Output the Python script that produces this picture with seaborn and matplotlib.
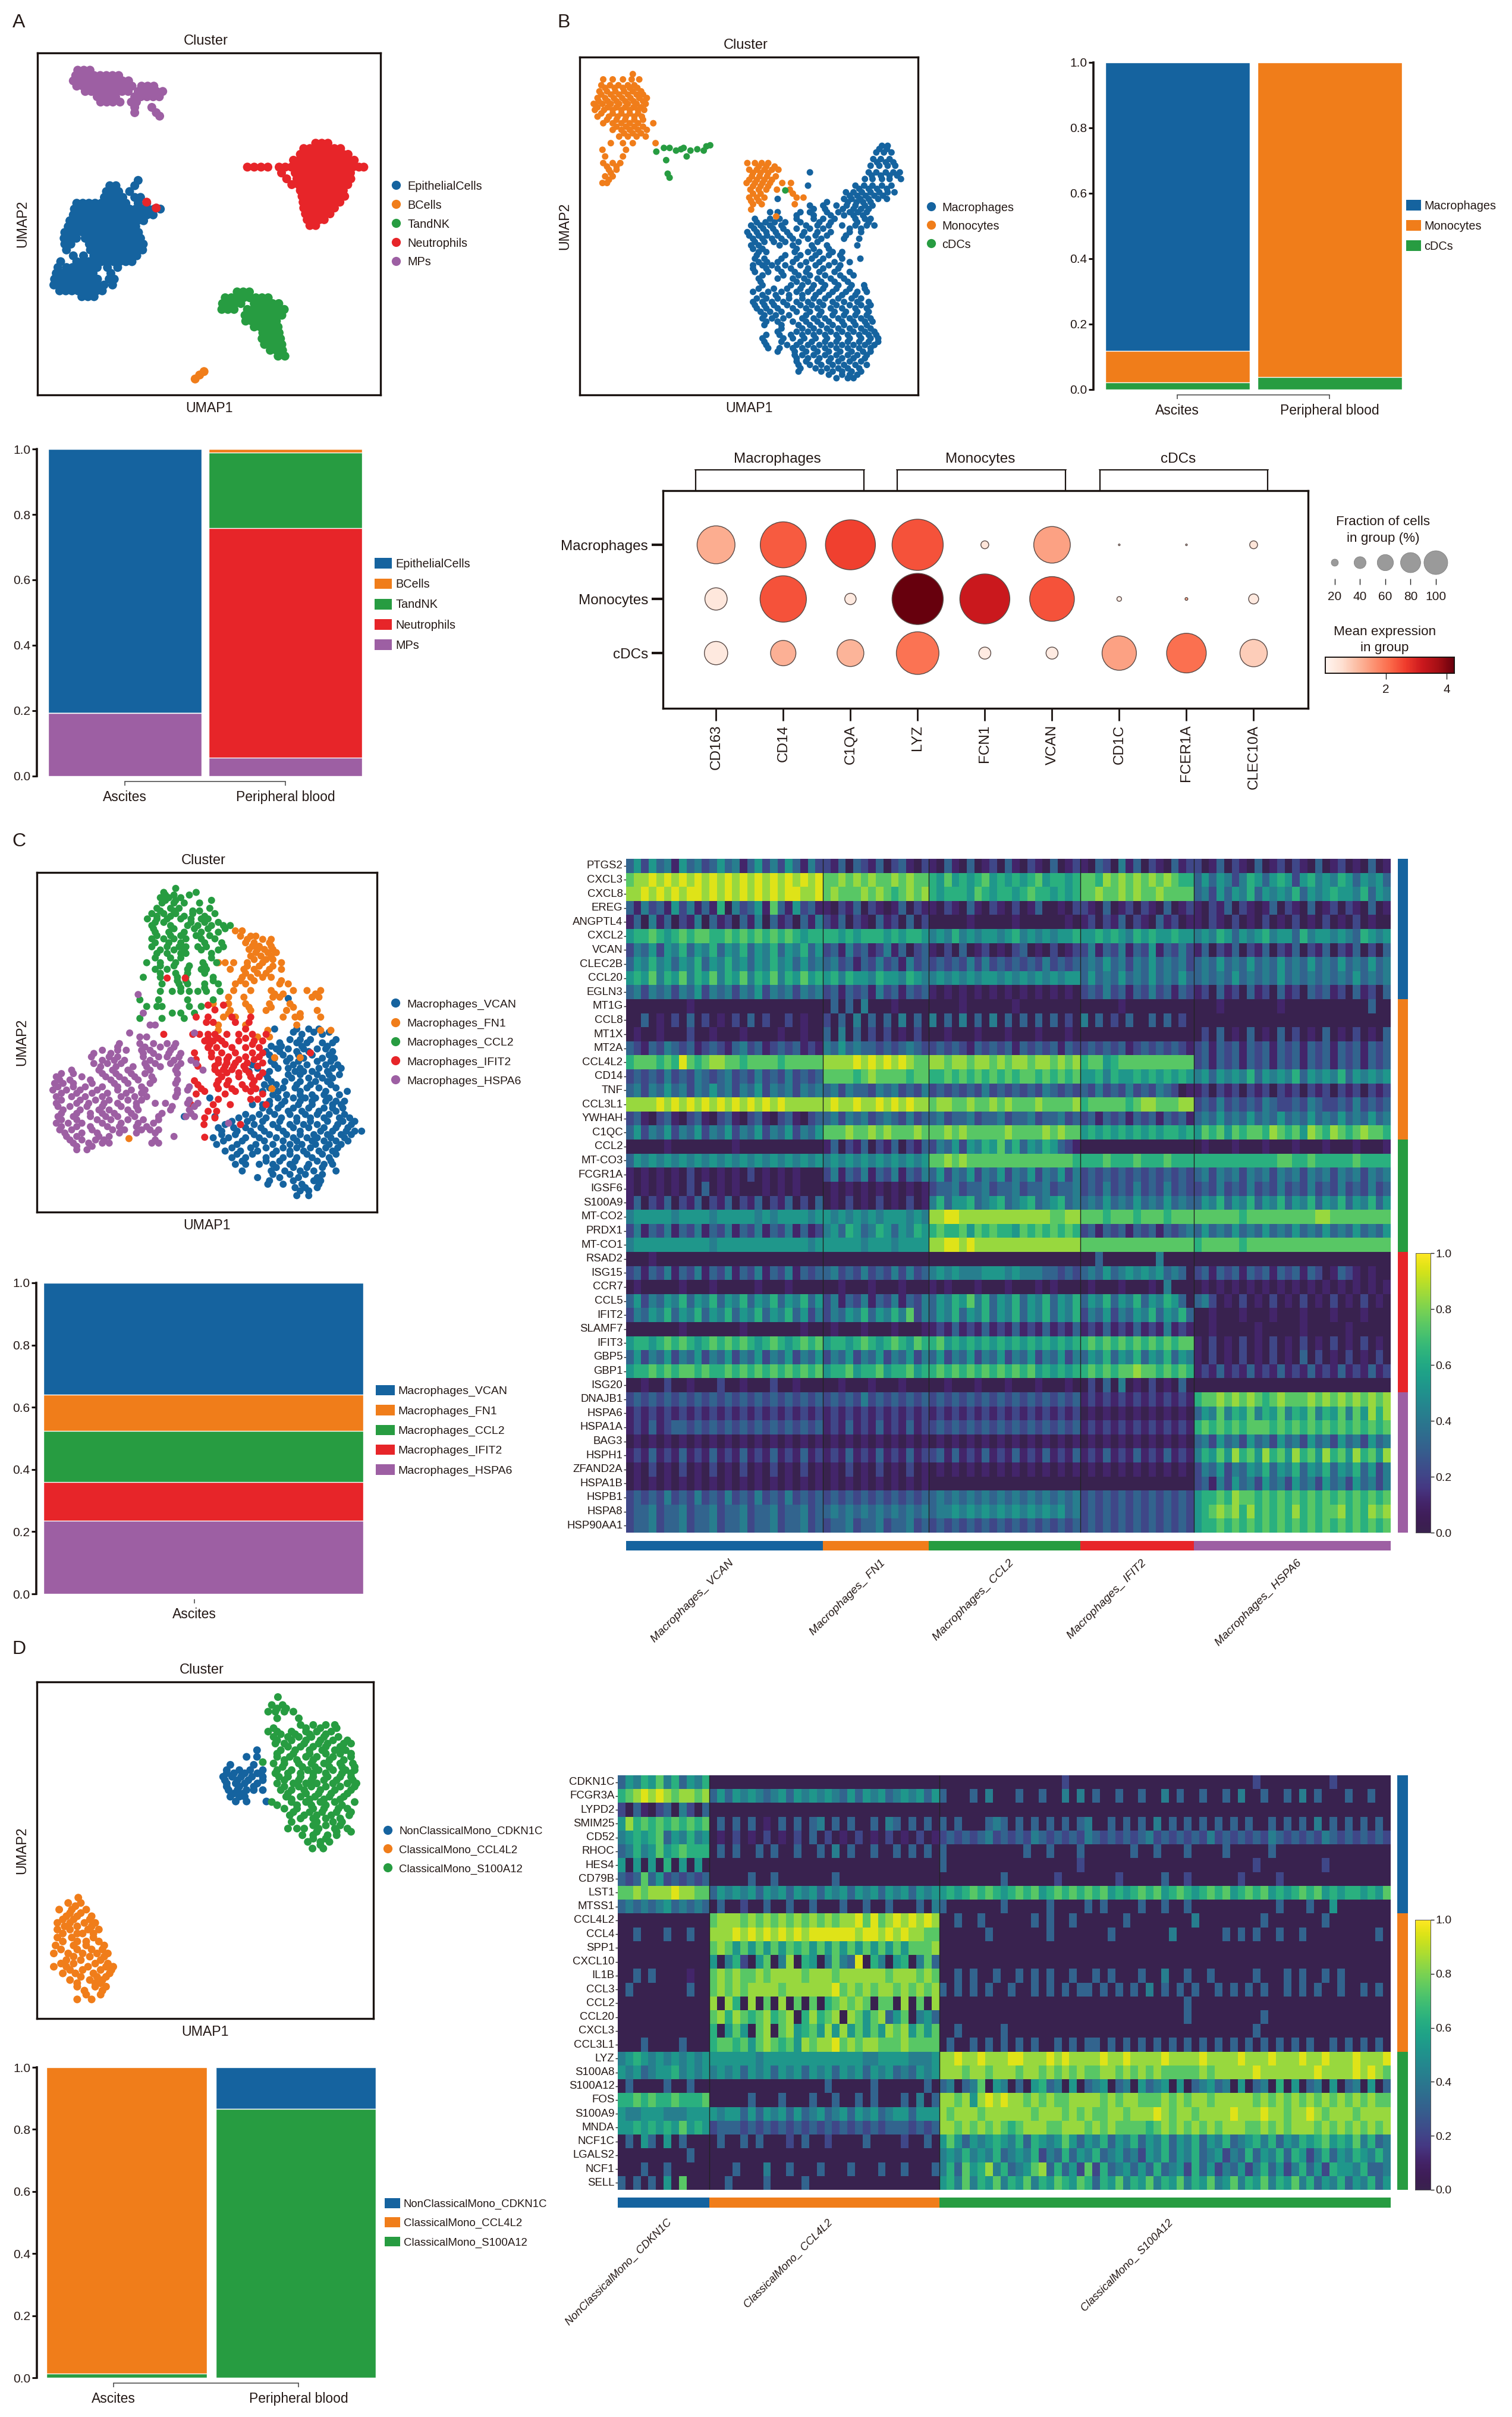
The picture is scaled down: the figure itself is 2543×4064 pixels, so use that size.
import numpy as np, pandas as pd
import matplotlib
matplotlib.use('Agg')
import matplotlib.pyplot as plt
from matplotlib.colors import ListedColormap, Normalize
from matplotlib.cm import ScalarMappable
from matplotlib.lines import Line2D
from matplotlib.patches import Patch
import seaborn as sns

sns.set_theme(style='white')
plt.rcParams['font.family'] = ['Liberation Sans', 'DejaVu Sans']
plt.rcParams['text.color'] = '#231815'
plt.rcParams['axes.labelcolor'] = '#231815'
plt.rcParams['xtick.color'] = '#231815'
plt.rcParams['ytick.color'] = '#231815'

BLUE, ORANGE, GREEN, RED, PURPLE = '#15639f', '#f07d1a', '#279c41', '#e72529', '#9d5fa3'
PAL = [BLUE, ORANGE, GREEN, RED, PURPLE]

# ---------- panel A ----------
A_NAMES = ['EpithelialCells', 'BCells', 'TandNK', 'Neutrophils', 'MPs']
A_EPI = [(680,[405]),(700,[322,340,395]),(722,[312,330,348,380]),(744,[306,324,342,360,395,412]),
 (766,[225,243,261,279,297,315,333,351,369,405,430]),(788,[218,236,254,272,290,308,326,344,362,380,398,416,434,452,470]),
 (810,[215,233,251,269,287,305,323,341,359,377,395,413,431,449]),(832,[205,223,241,259,277,295,313,331,349,367,385,403,421]),
 (854,[200,218,236,254,272,290,308,326,344,362,380,398]),(876,[190,208,226,244,262,280,298,316,334,352,370,388,406]),
 (898,[188,206,224,250,268,286,304,322,340,358,376,394,412]),(920,[190,208,262,280,298,316,334,352,370,388,406,420]),
 (942,[195,265,283,301,319,337,355,373,391,409,418]),(964,[215,245,275,293,311,329,347,365,383,401]),
 (986,[178,225,243,261,279,297,315,333,351,369,387]),(1008,[170,195,213,231,249,267,285,315,345]),
 (1030,[165,183,201,219,237,255,273,325]),(1052,[160,178,196,214,232,250,268,286,320,335]),
 (1074,[158,176,194,212,230,248,266,284,305,330]),(1096,[175,193,211,229,247,265,283,300]),(1118,[240,258,276])]
A_BCELL = [(1428,[572]),(1413,[585]),(1400,[598])]
A_TNK = [(1100,[695,713,731]),(1122,[660,678,696,714,732,750,768,786]),(1144,[652,670,688,706,745,763,781,799,817]),
 (1166,[650,668,686,725,743,761,779,797,815,833]),(1188,[718,736,754,772,790,808,826]),(1210,[720,738,756,774,792,810]),
 (1232,[745,763,781,799,815]),(1254,[770,788,806,818]),(1276,[768,786,804,822]),(1298,[775,793,811,826]),
 (1320,[792,810,828]),(1342,[815,835])]
A_NEU = [(540,[925,943,961]),(560,[890,908,926,944,962,980,998]),(582,[880,898,916,934,952,970,988,1006,1020]),
 (604,[860,878,896,914,932,950,968,986,1004,1022,1038]),
 (630,[725,745,765,785,818,836,854,872,890,908,926,944,962,980,998,1016,1034,1052,1066]),
 (652,[825,865,883,901,919,937,955,973,991,1009,1027]),(674,[840,870,888,906,924,942,960,978,996,1014,1028]),
 (696,[855,875,893,911,929,947,965,983,1001,1019]),(718,[880,898,916,934,952,970,988,1006]),
 (740,[885,903,921,939,957,975,993,1010]),(762,[888,906,924,942,960,978,996,430]),(784,[890,908,926,944,962,980,458]),
 (806,[895,913,931,949,967]),(828,[900,918,936,950]),(850,[908,925])]
A_MPS = [(265,[228,246,264]),(285,[222,240,258,276,294,312,330,348]),(305,[215,233,251,269,287,305,323,341,359,377]),
 (325,[225,243,261,279,297,315,333,351,369,387,415,433,451]),(345,[250,268,286,304,322,340,358,376,405,423,441,459,477]),
 (365,[285,303,321,339,395,413,431,449,467]),(385,[295,313,331,352,385,400]),(405,[395,445]),(425,[395,458]),(438,[468])]
A_SAMPLES = ['Ascites', 'Peripheral blood']
A_FRAC = {'EpithelialCells':[0.807,0.0],'BCells':[0.001,0.011],'TandNK':[0.0,0.231],'Neutrophils':[0.0,0.702],'MPs':[0.192,0.056]}

# ---------- panel B ----------
B_NAMES = ['Macrophages', 'Monocytes', 'cDCs']
B_MAC = [(550,[915,930]),(575,[900,920,940]),(600,[892,912,935]),(625,[885,908,930,950]),(650,[880,900,925,945,962,725]),
 (675,[870,890,915,935,965]),(700,[845,868,890,915,940,720]),(725,[820,840,862,885,908,930,948]),(750,[815,835,858,880,905,928,640]),
 (775,[760,795,822,845,870,890,725]),(800,[700,725,770,800,830,852,875,640,620]),(825,[580,620,645,690,735,760,790,845,870,885]),
 (850,[570,595,620,650,715,745,775,810,845,875,895]),(875,[560,585,610,635,665,710,745,780,830,860]),
 (900,[575,600,625,650,680,720,755,815,855]),(925,[570,590,645,680,730,770,850]),(950,[590,610,685,720,750,785,810]),
 (975,[580,605,650,690,730,760,810,858]),(1000,[575,600,625,660,700,740,775,805]),(1025,[580,615,650,685,715,750,790,830]),
 (1050,[590,640,680,710,745,780,815]),(1075,[600,675,705,735,765,800,835,868]),(1100,[575,615,650,690,720,750,785,820,850,875]),
 (1125,[585,610,640,670,705,735,765,800,835,860]),(1150,[580,605,630,665,700,730,760,795,830,860,885]),
 (1175,[595,620,650,690,725,755,790,820,850,880]),(1200,[600,625,655,705,735,765,800,830,860,885]),
 (1225,[605,650,695,725,755,785,815,845,875]),(1250,[640,690,720,750,780,810,840,870,895]),
 (1275,[600,655,680,710,740,770,800,830,860,885,905]),(1300,[610,665,690,720,750,780,810,840,870,895]),
 (1325,[640,685,715,745,775,805,835,865,885]),(1350,[690,720,750,780,810,840,870]),(1375,[695,725,755,785,815,845,875]),
 (1400,[695,755,785,810,835,860]),(1425,[795,825,840]),
 (562,[908,928]),(612,[902,925,945]),(662,[888,912,935,955]),(712,[855,880,902,928]),(738,[830,850,872,895,918]),(762,[825,848,865,885,770]),
 (788,[812,840,860,880,735,765]),(812,[690,735,780,815,840,865]),(838,[585,608,632,660,700,750,780,850,880]),(862,[578,602,628,655,690,725,760,830,860]),
 (888,[565,590,612,640,672,705,740,770,820]),(912,[580,605,630,660,695,745]),(938,[575,600,690,735,775]),(962,[585,660,700,740,775,805]),
 (988,[590,612,640,680,715,750,790,830]),(1012,[575,610,640,675,720,760,800]),(1038,[600,655,695,725,765,805,840]),(1062,[595,690,720,755,790,825]),
 (1088,[590,630,665,700,730,760,795,830,870]),(1112,[600,635,670,705,740,775,810,845]),(1138,[575,600,625,655,690,720,750,785,815,850,880]),
 (1162,[585,610,640,680,715,745,780,810,845,875]),(1188,[605,635,670,715,750,785,815,845,875]),(1212,[610,640,680,715,745,775,810,840,870,890]),
 (1238,[650,705,735,770,800,830,860,885]),(1262,[610,645,675,705,735,765,795,825,855,880,900]),(1288,[605,650,700,730,765,795,825,855,880,905]),
 (1312,[615,645,680,705,735,765,795,825,855,885]),(1338,[685,705,735,765,795,825,850,875]),(1362,[690,715,745,775,800,830,860]),(1388,[700,740,770,800,825,855]),(1412,[775,810,830,850])]
B_MONO = [(280,[258]),(300,[180,205,232,255,275]),(322,[175,198,220,245,262]),(345,[170,190,212,235,258,280]),
 (370,[165,185,208,230,252,275,295]),(392,[155,178,200,222,245,268,292]),(415,[158,182,205,228,250,272,288]),
 (440,[165,195,218,240,262,282]),(465,[180,205,228,250,272,312]),(490,[205,228,250,272,295]),(515,[222,245,268,292]),
 (540,[200,232,258,318]),(565,[178,240]),(590,[185,232]),(615,[180,205,225,560,580,598,615]),(640,[195,215,565,585,605,625,642]),
 (665,[185,205,572,592,612,635]),(690,[178,190,558,580,600,620,652,675]),(715,[568,590,610,638,672]),
 (745,[565,585,605,690,708]),(770,[575,598,685]),(790,[570]),(816,[636]),
 (332,[185,210,232,250,270]),(357,[175,200,222,245,268,285]),(382,[168,192,215,238,260,285]),(405,[165,192,215,238,260,280]),(428,[175,205,228,250,272]),
 (452,[190,215,238,262,285]),(478,[215,240,262,285]),(503,[235,258,280]),(628,[190,215,590,610,632]),(652,[200,575,595,615]),(678,[195,565,585,605,625]),
 (702,[575,595,615]),(730,[575,595,680]),(758,[570,590])]
B_CDC = [(572,[320]),(558,[340,355,392]),(568,[372,410,445]),(563,[385,428]),(552,[452]),(548,[462]),(590,[400]),(604,[346]),(655,[350]),(670,[355]),(718,[660])]
B_SAMPLES = ['Ascites', 'Peripheral blood']
B_FRAC = {'Macrophages':[0.882,0.0],'Monocytes':[0.096,0.962],'cDCs':[0.022,0.038]}
B_GENES = ['CD163','CD14','C1QA','LYZ','FCN1','VCAN','CD1C','FCER1A','CLEC10A']
B_GROUPS = ['Macrophages','Monocytes','cDCs']
B_PCT = [[65,84,94,97,8,62,1,1,8],[32,85,13,97,94,81,4,2,11],[34,38,41,76,14,14,57,69,42]]
B_EXPR = [[1.25,2.3,2.6,2.4,0.4,1.4,0.1,0.2,0.4],[0.35,2.4,0.3,4.25,3.2,2.4,0.2,1.3,0.3],[0.3,1.2,1.15,2.0,0.25,0.25,1.4,2.05,0.8]]
B_LEG_PCT = [20,40,60,80,100]

# ---------- panel C ----------
C_NAMES = ['Macrophages_VCAN','Macrophages_FN1','Macrophages_CCL2','Macrophages_IFIT2','Macrophages_HSPA6']
C_VCAN = [(625,[845]),(740,[805,870,905,935]),(760,[885,945]),(780,[850,880,910,985]),(805,[795,825,885,960]),
 (825,[780,820,870,905,975]),(850,[805,850,890,945,980]),(875,[740,805,860,900,955,990]),(900,[730,790,865,890,915,960]),
 (925,[785,855,905,945,975]),(950,[775,810,870,910,970]),(975,[770,815,880,955,1018]),(1000,[615,815,860,895,925,965]),
 (1025,[740,770,790,825,875,915,975,1000]),(1050,[790,845,885,935,985]),(1070,[540,630]),(1075,[700,740,780,825,870,910,950,995,1025]),
 (1100,[660,705,745,800,850,890,930,990,1030]),(1125,[650,695,735,775,830,880,940,975,1015,1040,1060]),
 (1150,[625,670,720,760,810,860,900,930,970,1010]),(1175,[635,695,750,800,850,885,925,965,1000]),
 (1200,[660,705,755,810,850,890,935,975]),(1225,[680,720,780,830,870,915,965]),(1250,[690,720,760,800,850,905,950,975]),
 (1275,[710,795,835,880,920,985]),(1300,[755,820,875,930]),(1325,[785,830,885,935]),(1350,[880,905]),(1368,[870,905]),
 (752,[860,920,965]),(792,[820,870,900,945,975]),(815,[810,845,890,930,955]),(838,[790,830,875,915,965]),(862,[795,840,875,930,970]),
 (888,[755,815,845,880,935,975,1000]),(912,[780,845,880,930,965,995]),(938,[795,835,880,925,960]),(962,[790,830,865,900,935,985]),
 (988,[800,840,880,915,950,995]),(1012,[790,835,880,915,955,985,1010]),(1038,[770,815,860,905,950,975,1005]),(1062,[720,760,805,850,895,930,965,1010]),
 (1088,[680,725,770,820,870,910,960,1005,1040]),(1112,[640,685,720,765,815,860,905,950,985,1020]),(1138,[650,690,745,790,840,880,920,960,1000,1030]),
 (1162,[655,710,775,830,870,915,950,985,1020]),(1188,[680,735,780,830,870,910,955,990]),(1212,[695,740,800,850,900,945,985]),(1238,[710,780,820,865,930,970]),
 (1262,[810,860,900,945]),(1288,[800,850,895,945]),(1312,[790,860,920,940]),(1338,[865,895,930])]
C_FN1 = [(370,[690,710]),(390,[705,735,750]),(415,[720,745,790]),(440,[730,755,775,800]),(465,[735,765,795]),
 (490,[640,660,685,725,770,825]),(515,[675,715,745,790,825]),(545,[710,735,770,795]),(570,[690,720,820,845]),
 (595,[685,735,795,860,900,940]),(620,[670,715,800,820,915,935]),(645,[625,670,720,790,850]),(670,[675,735,780,840,930]),
 (695,[655,690,830,865,880,940]),(725,[640,720,870]),(745,[640,785,940,970]),(770,[755,790]),(848,[880,805]),(965,[797]),(1153,[378]),
 (402,[725,770,795]),(428,[740,760,795]),(452,[750,785,810]),(478,[745,780,800]),(503,[725,760,800]),(530,[720,755,780]),(558,[705,745,825]),(608,[805,830,925]),(658,[730,795,860]),(682,[670,880])]
C_CCL2 = [(210,[515]),(225,[480,575]),(245,[470,495,530]),(265,[475,510,540,585]),(285,[460,500,525,615]),(305,[445,480,515,565,630]),
 (325,[432,460,490,530,560,590,610]),(350,[445,500,550,580,620,655,675]),(375,[455,495,540,590,640]),(400,[445,480,510,545,590,630]),
 (430,[445,490,525,545,580,605,655]),(455,[460,490,530,545,620]),(490,[430,470,515,595,635]),(515,[455,490,550,590,605]),
 (545,[420,470,520,545,625]),(570,[475,525,550,600,640]),(598,[470,505,530,555,580,605,645]),(630,[410,465,550,625]),
 (655,[430,460,475,555,590]),(680,[505,530,570]),(700,[410,475,540]),
 (235,[485,510,555]),(255,[485,515,620]),(295,[470,510,565,585]),(315,[460,500,540,600]),(338,[455,480,560,600,640]),(362,[450,510,570,610,660]),
 (388,[460,500,530,575,615]),(415,[455,495,530,600,650]),(442,[470,510,540,590,640]),(472,[455,500,530,620]),(502,[470,510,555,600]),(530,[470,515,550,600]),(558,[520,545,625]),(585,[530,600])]
C_IFIT2 = [(548,[490,543]),(650,[610,655]),(668,[630]),(695,[575,610,680,735]),(715,[605,625,690,730]),(740,[720]),
 (760,[480,565,585,610,630,665,700,740,780]),(785,[600,625,650,700,745,770]),(810,[610,635,680,720,760]),(830,[570,620,650,690,740,770,910]),
 (855,[575,640,665,700,745]),(880,[580,630,660,685,715,755]),(905,[640,665,700,730,770]),(935,[570,640,670,745]),
 (965,[590,640,680,720,750]),(985,[575,660,770]),(1005,[640,735,755]),(1025,[560,625,675,780]),(1050,[610,635]),(1075,[600,630]),(1100,[598,705]),(1148,[600]),
 (845,[620,670,720,760]),(868,[640,665,690,725,770]),(893,[630,655,680,720]),(920,[650,700,735,760]),(950,[580,635,665,710,740]),(975,[600,690,735]),(775,[610,640,720]),(798,[615,660,740])]
C_HSPA6 = [(610,[405]),(680,[420]),(725,[440,455]),(755,[380,570]),(770,[410,430]),(795,[350,410,450,490,515]),(820,[300,345,370,415,440,500]),
 (845,[268,320,345,420,465,490,525]),(870,[275,315,355,425,455,500,530,575]),(895,[210,290,330,375,440,515,595]),(920,[165,240,310,350,395,445]),
 (945,[160,185,215,270,335,375,440,515]),(970,[155,195,235,285,345,385,425,520,550]),(995,[165,210,250,300,355,395,430,515]),
 (1020,[165,225,260,305,345,400,455,485,550,580]),(1045,[185,235,290,320,375,405,500,555]),(1070,[170,215,265,310,345,395,465,545,570]),
 (1095,[165,200,240,300,355,405,450,670]),(1120,[175,210,270,330,365,415,440,465]),(1145,[195,225,290,320,510]),(1170,[215,260,300,320,445,465]),(1195,[225,255]),
 (808,[345,425,470,510]),(832,[275,325,420,450,495,530]),(858,[300,335,365,440,510,560]),(882,[295,340,390,430,470,520]),(908,[180,215,300,340,385,425,520]),
 (932,[175,205,265,325,365,405,450,520]),(958,[170,215,250,300,345,415,555]),(982,[180,225,270,315,370,415,520]),(1008,[180,235,280,320,375,415,555]),
 (1032,[170,205,255,300,355,400,505,570]),(1058,[180,225,265,300,335,385,475,560]),(1082,[180,225,285,325,375,420,465]),(1108,[180,225,265,315,350,400,430]),
 (1132,[190,240,285,350,400,455]),(1158,[205,240,280,305,455]),(1182,[225,270])]
C_SAMPLES = ['Ascites']
C_FRAC = {'Macrophages_VCAN':[0.36],'Macrophages_FN1':[0.117],'Macrophages_CCL2':[0.164],'Macrophages_IFIT2':[0.123],'Macrophages_HSPA6':[0.236]}
C_GENES = ['PTGS2','CXCL3','CXCL8','EREG','ANGPTL4','CXCL2','VCAN','CLEC2B','CCL20','EGLN3','MT1G','CCL8','MT1X','MT2A','CCL4L2','CD14','TNF','CCL3L1','YWHAH','C1QC','CCL2','MT-CO3','FCGR1A','IGSF6','S100A9','MT-CO2','PRDX1','MT-CO1','RSAD2','ISG15','CCR7','CCL5','IFIT2','SLAMF7','IFIT3','GBP5','GBP1','ISG20','DNAJB1','HSPA6','HSPA1A','BAG3','HSPH1','ZFAND2A','HSPA1B','HSPB1','HSPA8','HSP90AA1']
C_COLS = [26,14,20,15,26]
C_GENE_GROUP = [10,10,8,10,10]
C_HEAT = [
"35253415342353413524253142 21303213023102 10310301203102103012 103204130210312 20130210301202103012010301",
"78898989898989898989898989 77878787787877 65756567565656756656 776878787878766 35354246535652564546535453",
"88989898998989898989899889 78777878767878 65666576566567665656 778778787787777 34253546354546354565546354",
"31423152413160423517315231 10213021013021 10210310210201300102 210301202103012 10213021013021030120210301",
"13041302140312031403120314 21302103120302 00000100000100000010 120213021031201 10210201020102010201020100",
"56676567677667676767676566 66565666565665 45464545545645454556 556565465655655 45465354564553645545436545",
"24352546354635463546354635 23142312413023 10203012010230102012 241324132513242 13021302130213021302130203",
"35464535463546453546453534 34231324231423 23232424232323242323 343534243534342 34353435343534353435343534",
"56574657465746574657465756 56465546554654 45454545545454545455 353435343534353 34343534343534343434353434",
"34243424352434243524342434 23132314231323 10101010101010101010 232423132423132 12031203120312032312031203",
"00000000100000000000000000 03030400010000 00001000000100000000 000001000000000 00010000000100000000000300",
"00301020302010203020020100 20304030304030 40304030403030303020 403020300303020 00000000000000000000000000",
"01001000200100010000100100 30403020201020 00100010001000100010 000000000000000 02030103010302010301020103",
"32132432312321342312323121 43534332323432 23232132323132323132 232323123232321 23132313231323132313231323",
"67776769767887767777677777 88889898989877 88788788787887887878 677567777777777 23132313231323132313231323",
"23232423243234232423242323 77776787777677 66767676767677676767 556465565656565 45354546354546354546354545",
"34243534243534243524342434 34243324342324 23232324232323243232 324232423243201 12021202120212021202120212",
"88889898989898989898988888 89889889898988 78877877878777877778 677777678877788 23242323243223243223242323",
"23102310231023102310231023 34243423432423 34233423342334233423 231323132313231 34353435343534353435343534",
"35243524352435243524352435 77787787877787 77878777778777787877 565656565656656 57675767768767587687678776",
"00000100000000100000000000 13021302130213 24352546574635465321 000000000000000 01000100010001000100010001",
"35454545454545454545454545 45454545454545 77878777777777777776 666766676667666 66666666666776676666676666",
"10101010201010102010101000 24132413241324 35243524352435243524 232323232323232 34243424342434243424342434",
"10101010203010100010101000 01010101010101 23342334233423342334 232423242324232 23242324232423242324232423",
"13021302130213021302130203 01020102010201 46355634563456345634 343534353435343 35463546354635463546354635",
"45555545555455555454555545 54545454555454 88998888888888887788 777677767776777 77777767777777778877777777",
"24132413241324132413241312 45365346535465 67667576766576767676 231323132313234 35343534353435343534353435",
"45555555555455555555555545 55555455545555 88998988888888888888 777777777777777 67777767777777777777777777",
"00010000000000000000000000 00000000000000 00000000000000000000 003000000040000 00000000000000000000000000",
"23132413241324132413241323 34232423242423 45454445554544433232 343534545453430 23132313231323132013210100",
"01000001000100000100010000 00100010001000 10100010001000101000 010001000104000 01010101010101010101010101",
"35243546354635463546354635 24132413241324 35465746354635463546 354635463546530 34201020102010201020102010",
"24354635463546354635463524 24354635464724 35463546354635463546 243524354635463 00100010001000100010001000",
"00000001000000010000000100 01000100010001 12131213121312131213 121312131214121 00100000100000100000100000",
"56656767656767676567656767 56656765676576 67565656565656565656 676767676767677 10201020102010201020102010",
"35243524352435243524352435 24352435243524 35243524352435243524 354635463546354 10201020102010302010201020",
"56676767767667676767676767 56675667566756 67676767676767565656 676767787767676 12131213121312131213121312",
"00100200100020010002001000 00100010001000 00100010001000100010 020304010201030 00000000000000000000000000",
"23232323232323232323232323 23232423232323 23232323232323232323 121212121212121 67787878767877787878787878",
"12121212121212121212121212 12121212121212 12121212121212121212 010101010101010 35474657465746574657475868",
"12131233232323232323232323 12131213121312 23232323232323232323 121212121212121 67676767776767676767676767",
"01010101010101010101010101 01010101010101 01010101010101010101 010101010101010 34253425342534253425342534",
"12131213121312131213121312 12131213121312 23131213121312131213 121312131213121 46575867586758675867586758",
"01020102010201020102010201 01020102010201 01010101010101010101 010101010101010 24352435463546354635463524",
"01010101010101010101010101 01010101010101 00000000000000000000 000000000000000 23142534253425342534253424",
"23232423242324232423242323 23232323232323 34343434343434343434 232323232323232 56676877676767676767676767",
"23342334233423342334233423 34343434343434 34454545454545454534 232323232323232 56787868676768676778676878",
"23342334233423342334233423 23342334233423 23232323232323232323 232323232323232 56676767676767676767676767",
]

# ---------- panel D ----------
D_NAMES = ['NonClassicalMono_CDKN1C','ClassicalMono_CCL4L2','ClassicalMono_S100A12']
D_CDKN1C = [(455,[714]),(480,[714,685]),(510,[640,705]),(530,[630,665,695,730]),(555,[620,645,670,700,730]),(580,[630,655,680,715]),(605,[635,660,685,705,730]),(630,[640,665,680]),(648,[655,685,740]),
 (542,[630,650,680,715]),(568,[625,660,690,730]),(592,[630,665,705]),(618,[650,675])]
D_CCL4L2 = [(1010,[218]),(1030,[190,225]),(1055,[165,200,240]),(1080,[185,215,255]),(1105,[160,195,235,265]),(1130,[160,195,245,275]),(1160,[160,200,260]),
 (1190,[155,205,240,290]),(1220,[150,190,230,270,300]),(1245,[185,225,280]),(1270,[150,185,245,295,315]),(1295,[175,210,260,305]),(1320,[195,250,285]),(1345,[215,265,295]),(1375,[240,280]),(1393,[215,255]),
 (1042,[210]),(1068,[195,225]),(1092,[175,205,250]),(1118,[180,215,255]),(1145,[175,215,230,260]),(1175,[175,215,240,275]),(1205,[170,215,255,285]),(1232,[205,250,290]),(1258,[170,205,265,300]),(1282,[195,230,280,310]),(1308,[225,270,295]),(1332,[215,265,280]),(1360,[235,285])]
D_S100A12 = [(255,[772]),(285,[755,785]),(310,[745,765,790,815]),(335,[770,830]),(360,[835,870,905,930]),(385,[745,770,810,850,880,920]),(405,[760,800,830,865,900,940]),
 (430,[765,790,845,885,910,955,975]),(455,[780,820,860,895,930,960]),(480,[770,805,850,880,925,975]),(500,[730]),(505,[760,790,830,865,900,945,980]),(530,[770,810,855,885,925,960,985]),
 (555,[775,800,835,870,910,945,975]),(580,[770,815,850,880,925,965,990]),(605,[780,810,845,890,930,975]),(630,[795,835,875,915,955]),(650,[755,810,850,890,930,985]),
 (675,[790,825,870,900,940,965]),(700,[805,845,880,920,970]),(725,[810,880,925,950]),(750,[800,825,845,885,930,965]),(775,[840,870,910,935]),(800,[855,890,915]),(825,[868,898]),
 (298,[770,795]),(372,[760,850,890,935]),(395,[780,820,860,905]),(418,[770,810,850,890,925,965]),(442,[800,835,870,905,945]),(468,[770,815,860,905,945,975]),(492,[790,825,870,915,955]),
 (518,[785,840,875,915,950,985]),(542,[765,800,835,870,905,950,975]),(568,[790,830,865,900,935,980]),(592,[790,830,865,905,945,985]),(618,[800,850,885,920,965]),(640,[810,860,900,945]),
 (662,[770,825,865,905,950]),(688,[815,860,895,935,975]),(712,[835,870,905,945]),(738,[870,905,945]),(762,[880,935,975]),(788,[870,905]),(812,[890])]
D_SAMPLES = ['Ascites', 'Peripheral blood']
D_FRAC = {'NonClassicalMono_CDKN1C':[0.0,0.135],'ClassicalMono_CCL4L2':[0.987,0.0],'ClassicalMono_S100A12':[0.013,0.865]}
D_GENES = ['CDKN1C','FCGR3A','LYPD2','SMIM25','CD52','RHOC','HES4','CD79B','LST1','MTSS1','CCL4L2','CCL4','SPP1','CXCL10','IL1B','CCL3','CCL2','CCL20','CXCL3','CCL3L1','LYZ','S100A8','S100A12','FOS','S100A9','MNDA','NCF1C','LGALS2','NCF1','SELL']
D_COLS = [12,30,59]
D_GENE_GROUP = [10,10,10]
D_HEAT = [
"354657463546 - 00000000000000002000000000000000000000000200000000020000000",
"678989878878 353545434535454543535453454535 30003040003003004040300300300403003003040030030403000300300",
"203102304203 - -",
"586767676767 030303010303034030300304303030 30300034303030303034003030304030303030303003030304030303030",
"456567354645 010201020102030201020102010201 23232342323243232324323232342323232423232324323232432323232",
"346457567666 030300303003003040300300303030 30000000000300300030000003003000300003000003000000000000000",
"505050605050 - 30000000000000000020000000000000000000000200000000200000000",
"323735232323 000003003000000030000000000000 00000000300000020000000200000300200000020000200000000000000",
"778788898877 354545354535453545354535453545 56567676567675676767675656767567656767567675656767565665657",
"343434534343 030020030030030003003003000304 30000000300000300003030000300300300000000000300030050000000",
"- 788878787878787878897978989898 00300300000030300300000030000000040000000030000000300000000",
"003000300300 888989898989899999989989898877 00000030000000300000003000000040000003030300300300000000030",
"- 787575757576757575757575757778 -",
"- 504620570480650474390640560473 -",
"003030000100 787877878888788878888887888787 00303003003030300300303000300400300300000300030300303000000",
"030000000300 787878888788888897878788787878 30303030030030303033030303040303030030303030030303003003030",
"- 808608070807070678787077080708 00000000000000000000000000000000300000000000000000000000000",
"- 786876786780686780875783570453 00000000000000000000000000000000300000000030000000000000000",
"- 605750780785675858575758785757 00300000300000000000000000000000000000000300000000000000000",
"000300003000 677675787675878897878877787777 03003030303030030303303030303030303030303030303030030303030",
"456545454545 555555455555555555554455554445 88988988899888989888898898888988889888898889888988988898889",
"545345564545 454535453545354535453545343545 88878878887887878787788787878777778788888988888889888898987",
"030000300300 000000000000000300000300000030 34034705403056340503450340534505034534050340605034050340503",
"667676676667 000003000300030030030300030403 88785898988787877888878788777878788788888787878787878787877",
"544555444555 545535354535345345354534553555 87888788888878887878778878889878878888988898878898788878888",
"556565657565 233323232323232323232323332323 88787878767888778887878777767878787878887787878887878787878",
"030530503000 030030300020300200003000020030 57535456546365457535463546354635463546345646354656756574634",
"000000000300 - 45464546345462436354634534254635463452436354636524635465464",
"000300300000 000300040030003000300030030003 46375684634578363527263453536345263524352463524635265546334",
"303030507000 003000030000300000000000000000 56474657465746576576365746574657465745746574657463546354635",
]

# digit strings -> 0..1 matrix
def parse_heat(rows, cols):
    out = []
    for r in rows:
        vals = []
        for part, w in zip(r.split(), cols):
            if part == '-':
                part = ''
            part = (part + '0' * w)[:w]
            vals += [int(c) / 9 * .95 for c in part]
        out.append(vals)
    return np.array(out)

W, H = 2543, 4064
fig = plt.figure(figsize=(W / 100, H / 100), dpi=100, facecolor='white')

def axpx(x0, y0, x1, y1):
    return fig.add_axes([x0 / W, 1 - y1 / H, (x1 - x0) / W, (y1 - y0) / H])

def frame(rows_by_name):
    rec = []
    for name, rows in rows_by_name.items():
        for y, xs in rows:
            rec += [(x, y, name) for x in xs]
    return pd.DataFrame(rec, columns=['u1', 'u2', 'cluster'])

def umap(box, lims, rows_by_name, colors, dia, titlepad, xpad, ypad):
    ax = axpx(*box)
    df = frame(rows_by_name)
    sns.scatterplot(data=df, x='u1', y='u2', hue='cluster', hue_order=list(rows_by_name), palette=colors,
                    s=(dia * .72) ** 2, linewidth=0, legend=False, ax=ax)
    ax.set_xlim(lims[0], lims[1]); ax.set_ylim(lims[3], lims[2])
    ax.set_xticks([]); ax.set_yticks([])
    ax.set_xlabel('UMAP1', fontsize=16.7, labelpad=xpad)
    ax.set_ylabel('UMAP2', fontsize=16.7, labelpad=ypad)
    ax.set_title('Cluster', fontsize=17, pad=titlepad, x=0.49)
    for s in ax.spines.values():
        s.set_visible(True); s.set_linewidth(2.4); s.set_color('#1a1311')
    return ax

def legend(labels, colors, kind, x0, x1, textx, y0, spacing, fs):
    fpx = fs / .72
    if kind == 'dot':
        hs = [Line2D([], [], marker='o', ls='', color=c, markersize=11, markeredgewidth=0) for c in colors]
        y0 = y0 + 3
    else:
        hs = [Patch(facecolor=c, edgecolor='none') for c in colors]
        y0 = y0 + 5
    fig.legend(hs, labels, loc='upper left', bbox_to_anchor=(x0 / W, 1 - (y0 - fpx * .58) / H), frameon=False, fontsize=fs,
               labelspacing=(spacing - fpx * 1.0) / fpx, handlelength=(x1 - x0) / fpx, handleheight=1.0,
               handletextpad=(textx - x1) / fpx, borderpad=0, borderaxespad=0)

def stacked(box, samples, frac, colors, centers, barw, ticks, labelpad=6):
    ax = axpx(*box)
    names = list(frac)
    tops = np.cumsum(np.array([frac[n] for n in names[::-1]]), axis=0)[::-1]
    step = (centers[1] - centers[0]) if len(centers) > 1 else barw * 1.05
    for name, top, c in zip(names, tops, colors):
        sns.barplot(x=samples, y=top, order=samples, color=c, saturation=1, width=barw / step, ax=ax)
    to_x = lambda p: (p - centers[0]) / step
    ax.set_xlim(to_x(box[0]), to_x(box[2])); ax.set_ylim(0, 1)
    sns.despine(ax=ax, top=True, right=True)
    ax.spines['left'].set_linewidth(2.6); ax.spines['left'].set_color('#1a1311')
    ax.spines['bottom'].set_position(('outward', 6.5))
    ax.spines['bottom'].set_linewidth(1.1); ax.spines['bottom'].set_color('#444444')
    tpos = [to_x(t) for t in ticks]
    ax.spines['bottom'].set_bounds(tpos[0], tpos[-1])
    ax.set_yticks(np.arange(0, 1.01, .2)); ax.set_xticks(tpos)
    ax.set_xticklabels(samples)
    ax.tick_params(axis='y', left=True, length=5.5, width=2.2, labelsize=15, pad=2, color='#1a1311')
    ax.tick_params(axis='x', bottom=True, length=5, width=1.1, labelsize=16.5, pad=labelpad, color='#444444')
    ax.set_xlabel(''); ax.set_ylabel('')
    return ax

low = np.array([0.225, 0.135, 0.31])
vir = np.array(sns.color_palette('viridis', 256))
for i in range(40):
    t = i / 40
    vir[i] = (1 - t) * low + t * vir[i]
HEAT_CMAP = ListedColormap(vir)

def heat(box, sidebox, botbox, cbarbox, rows, genes, cols, gene_group, names, colors, label_fs, label_dx, label_pad):
    ax = axpx(*box)
    cax = axpx(*cbarbox)
    data = pd.DataFrame(parse_heat(rows, cols), index=genes)
    sns.heatmap(data, ax=ax, cbar_ax=cax, cmap=HEAT_CMAP, vmin=0, vmax=1, xticklabels=False, yticklabels=genes)
    ax.tick_params(axis='y', left=True, length=3, width=1, labelsize=13.4, pad=1, labelrotation=0, color='#222222')
    edges = np.cumsum(cols)[:-1]
    ax.vlines(edges, 0, len(genes), color='#222222', lw=1)
    ax.set_xlabel(''); ax.set_ylabel('')
    cax.set_yticks(np.arange(0, 1.01, .2))
    cax.tick_params(axis='y', right=True, length=4, width=1, labelsize=14, pad=2, color='#222222')
    for s in cax.spines.values():
        s.set_visible(True); s.set_linewidth(.6); s.set_color('#555555')
    gcm = ListedColormap(colors[:len(names)])
    sax = axpx(*sidebox)
    sidx = np.repeat(np.arange(len(names)), gene_group).reshape(-1, 1)
    sns.heatmap(sidx, ax=sax, cmap=gcm, vmin=-.5, vmax=len(names) - .5, cbar=False, xticklabels=False, yticklabels=False)
    bax = axpx(*botbox)
    bidx = np.repeat(np.arange(len(names)), cols).reshape(1, -1)
    sns.heatmap(bidx, ax=bax, cmap=gcm, vmin=-.5, vmax=len(names) - .5, cbar=False, xticklabels=False, yticklabels=False)
    colw = (box[2] - box[0]) / sum(cols)
    starts = np.r_[0, np.cumsum(cols)[:-1]]
    centers = starts + np.array(cols) / 2 + label_dx / colw
    bax.set_xticks(centers)
    bax.set_xticklabels([n.replace('_', '_ ') for n in names], rotation=45, ha='right', va='top', rotation_mode='anchor', fontsize=label_fs, style='italic')
    bax.tick_params(axis='x', bottom=False, pad=label_pad)
    return ax

# ===== Panel A =====
umap((63, 89, 640, 664), (110, 1115, 200, 1488),
     dict(zip(A_NAMES, [A_EPI, A_BCELL, A_TNK, A_NEU, A_MPS])), dict(zip(A_NAMES, PAL)), 15, 10, 8, 10)
legend(A_NAMES, PAL, 'dot', 656, 676, 685, 312, 32, 14.3)
stacked((62, 755, 620, 1305), A_SAMPLES, A_FRAC, PAL, [210, 480], 258, [210, 480])
legend(A_NAMES, PAL, 'box', 630, 659, 665, 945, 34.3, 14.3)

# ===== Panel B =====
umap((975, 96, 1544, 664), (118, 1010, 216, 1488),
     dict(zip(B_NAMES, [B_MAC, B_MONO, B_CDC])), dict(zip(B_NAMES, PAL)), 11, 10, 8, 10)
legend(B_NAMES, PAL, 'dot', 1556, 1576, 1584, 348, 31, 14.3)
stacked((1839, 105, 2360, 655), B_SAMPLES, B_FRAC, PAL, [1980, 2236], 243, [1980, 2236])
legend(B_NAMES, PAL, 'box', 2365, 2390, 2395, 343, 34, 14.3)

# dot plot
dp = axpx(1115, 825, 2200, 1191)
long = pd.DataFrame([
    (g, c, p, e)
    for g, prow, erow in zip(B_GROUPS, B_PCT, B_EXPR)
    for c, p, e in zip(B_GENES, prow, erow)], columns=['group', 'gene', 'pct', 'expr'])
long['area'] = (88 * (long.pct / 100) ** .75 * .72) ** 2
amin, amax = long.area.min(), long.area.max()
sns.scatterplot(data=long, x='gene', y='group', hue='expr', hue_norm=(0, 4.25), palette='Reds',
                size='area', sizes=(amin, amax), size_norm=(amin, amax), edgecolor='#5a4a46', linewidth=1.0, legend=False, ax=dp)
dp.set_xlim(-.79, 8.81); dp.set_ylim(3.02, -1)
dp.set_xlabel(''); dp.set_ylabel('')
dp.tick_params(axis='y', left=True, length=14, width=3, labelsize=17.5, pad=4, color='#1a1311')
dp.tick_params(axis='x', bottom=True, length=15, width=2, labelsize=17.5, pad=5, labelrotation=90, color='#1a1311')
for s in dp.spines.values():
    s.set_visible(True); s.set_linewidth(2.4); s.set_color('#1a1311')
br = axpx(1115, 789, 2200, 825)
B_BRACKETS = [(-.30, 2.20), (2.70, 5.20), (5.71, 8.21)]
for (a, b), name, mid in zip(B_BRACKETS, B_GROUPS, [.91, 3.93, 6.88]):
    br.plot([a, a], [0, 1], color='#1a1311', lw=1.6)
    br.plot([b, b], [0, 1], color='#1a1311', lw=1.6)
    br.plot([a, b], [1, 1], color='#1a1311', lw=3)
    br.text(mid, 1.17, name, ha='center', va='bottom', fontsize=17.5)
br.set_xlim(-.79, 8.81); br.set_ylim(0, 1); br.axis('off')

sl = axpx(2225, 919, 2440, 973)
sl_df = pd.DataFrame({'pct': B_LEG_PCT, 'y': [0] * 5})
sl_df['area'] = (40 * (sl_df.pct / 100) ** .75 * .72) ** 2
sns.scatterplot(data=sl_df, x='pct', y='y', size='area', sizes=(sl_df.area.min(), sl_df.area.max()), color='#9a9a9a',
                edgecolor='#777777', linewidth=.5, legend=False, ax=sl)
sl.set_xlim(10.6, 111.8); sl.set_ylim(-1, 1); sl.set_yticks([]); sl.set_xticks(B_LEG_PCT)
sl.set_xlabel(''); sl.set_ylabel('')
sl.tick_params(axis='x', bottom=True, length=7, width=1, labelsize=15, pad=8, color='#222222')
for s in sl.spines.values():
    s.set_visible(False)
sl.set_title('Fraction of cells\nin group (%)', fontsize=16.2, pad=6, x=.47, linespacing=1.4)

cb = axpx(2229, 1105, 2446, 1132)
fig.colorbar(ScalarMappable(Normalize(0, 4.25), 'Reds'), cax=cb, orientation='horizontal')
cb.set_xticks([2, 4])
cb.tick_params(axis='x', bottom=True, length=7, width=1, labelsize=15, pad=6, color='#222222')
for s in cb.spines.values():
    s.set_visible(True); s.set_linewidth(1.2); s.set_color('#1a1311')
cb.set_title('Mean expression\nin group', fontsize=16.2, pad=7, x=.46, linespacing=1.4)

# ===== Panel C =====
umap((62, 1467, 634, 2038), (108, 1105, 150, 1430),
     dict(zip(C_NAMES, [C_VCAN, C_FN1, C_CCL2, C_IFIT2, C_HSPA6])), dict(zip(C_NAMES, PAL)), 12, 10, 8, 10)
legend(C_NAMES, PAL, 'dot', 655, 675, 684, 1687, 32, 14)
stacked((61, 2157, 625, 2680), C_SAMPLES, C_FRAC, PAL, [342], 538, [327], 5)
legend(C_NAMES, PAL, 'box', 632, 664, 669, 2335, 33.3, 14)
heat((1053, 1444, 2339, 2577), (2351, 1444, 2368, 2577), (1053, 2591, 2339, 2607), (2381, 2107, 2406, 2577),
     C_HEAT, C_GENES, C_COLS, C_GENE_GROUP, C_NAMES, PAL, 14, 7, 3)

# ===== Panel D =====
umap((62, 2828, 628, 3394), (103, 1037, 198, 1465),
     dict(zip(D_NAMES, [D_CDKN1C, D_CCL4L2, D_S100A12])), dict(zip(D_NAMES, PAL)), 13, 10, 8, 10)
legend(D_NAMES, PAL, 'dot', 642, 662, 671, 3077, 31.5, 13.4)
stacked((62, 3476, 640, 3998), D_SAMPLES, D_FRAC, PAL, [213, 497], 269, [191, 502], 6)
legend(D_NAMES, PAL, 'box', 647, 673, 679, 3702, 32, 13.4)
heat((1039, 2985, 2339, 3682), (2350, 2985, 2368, 3682), (1039, 3695, 2339, 3712), (2380, 3228, 2406, 3682),
     D_HEAT, D_GENES, D_COLS, D_GENE_GROUP, D_NAMES, PAL, 13.2, 5, 6)

for letter, x, y in [('A', 32, 38), ('B', 948, 38), ('C', 32, 1415), ('D', 32, 2773)]:
    fig.text(x / W, 1 - y / H, letter, fontsize=23, ha='center', va='center')

fig.savefig('out.png', dpi=100, facecolor='white')
